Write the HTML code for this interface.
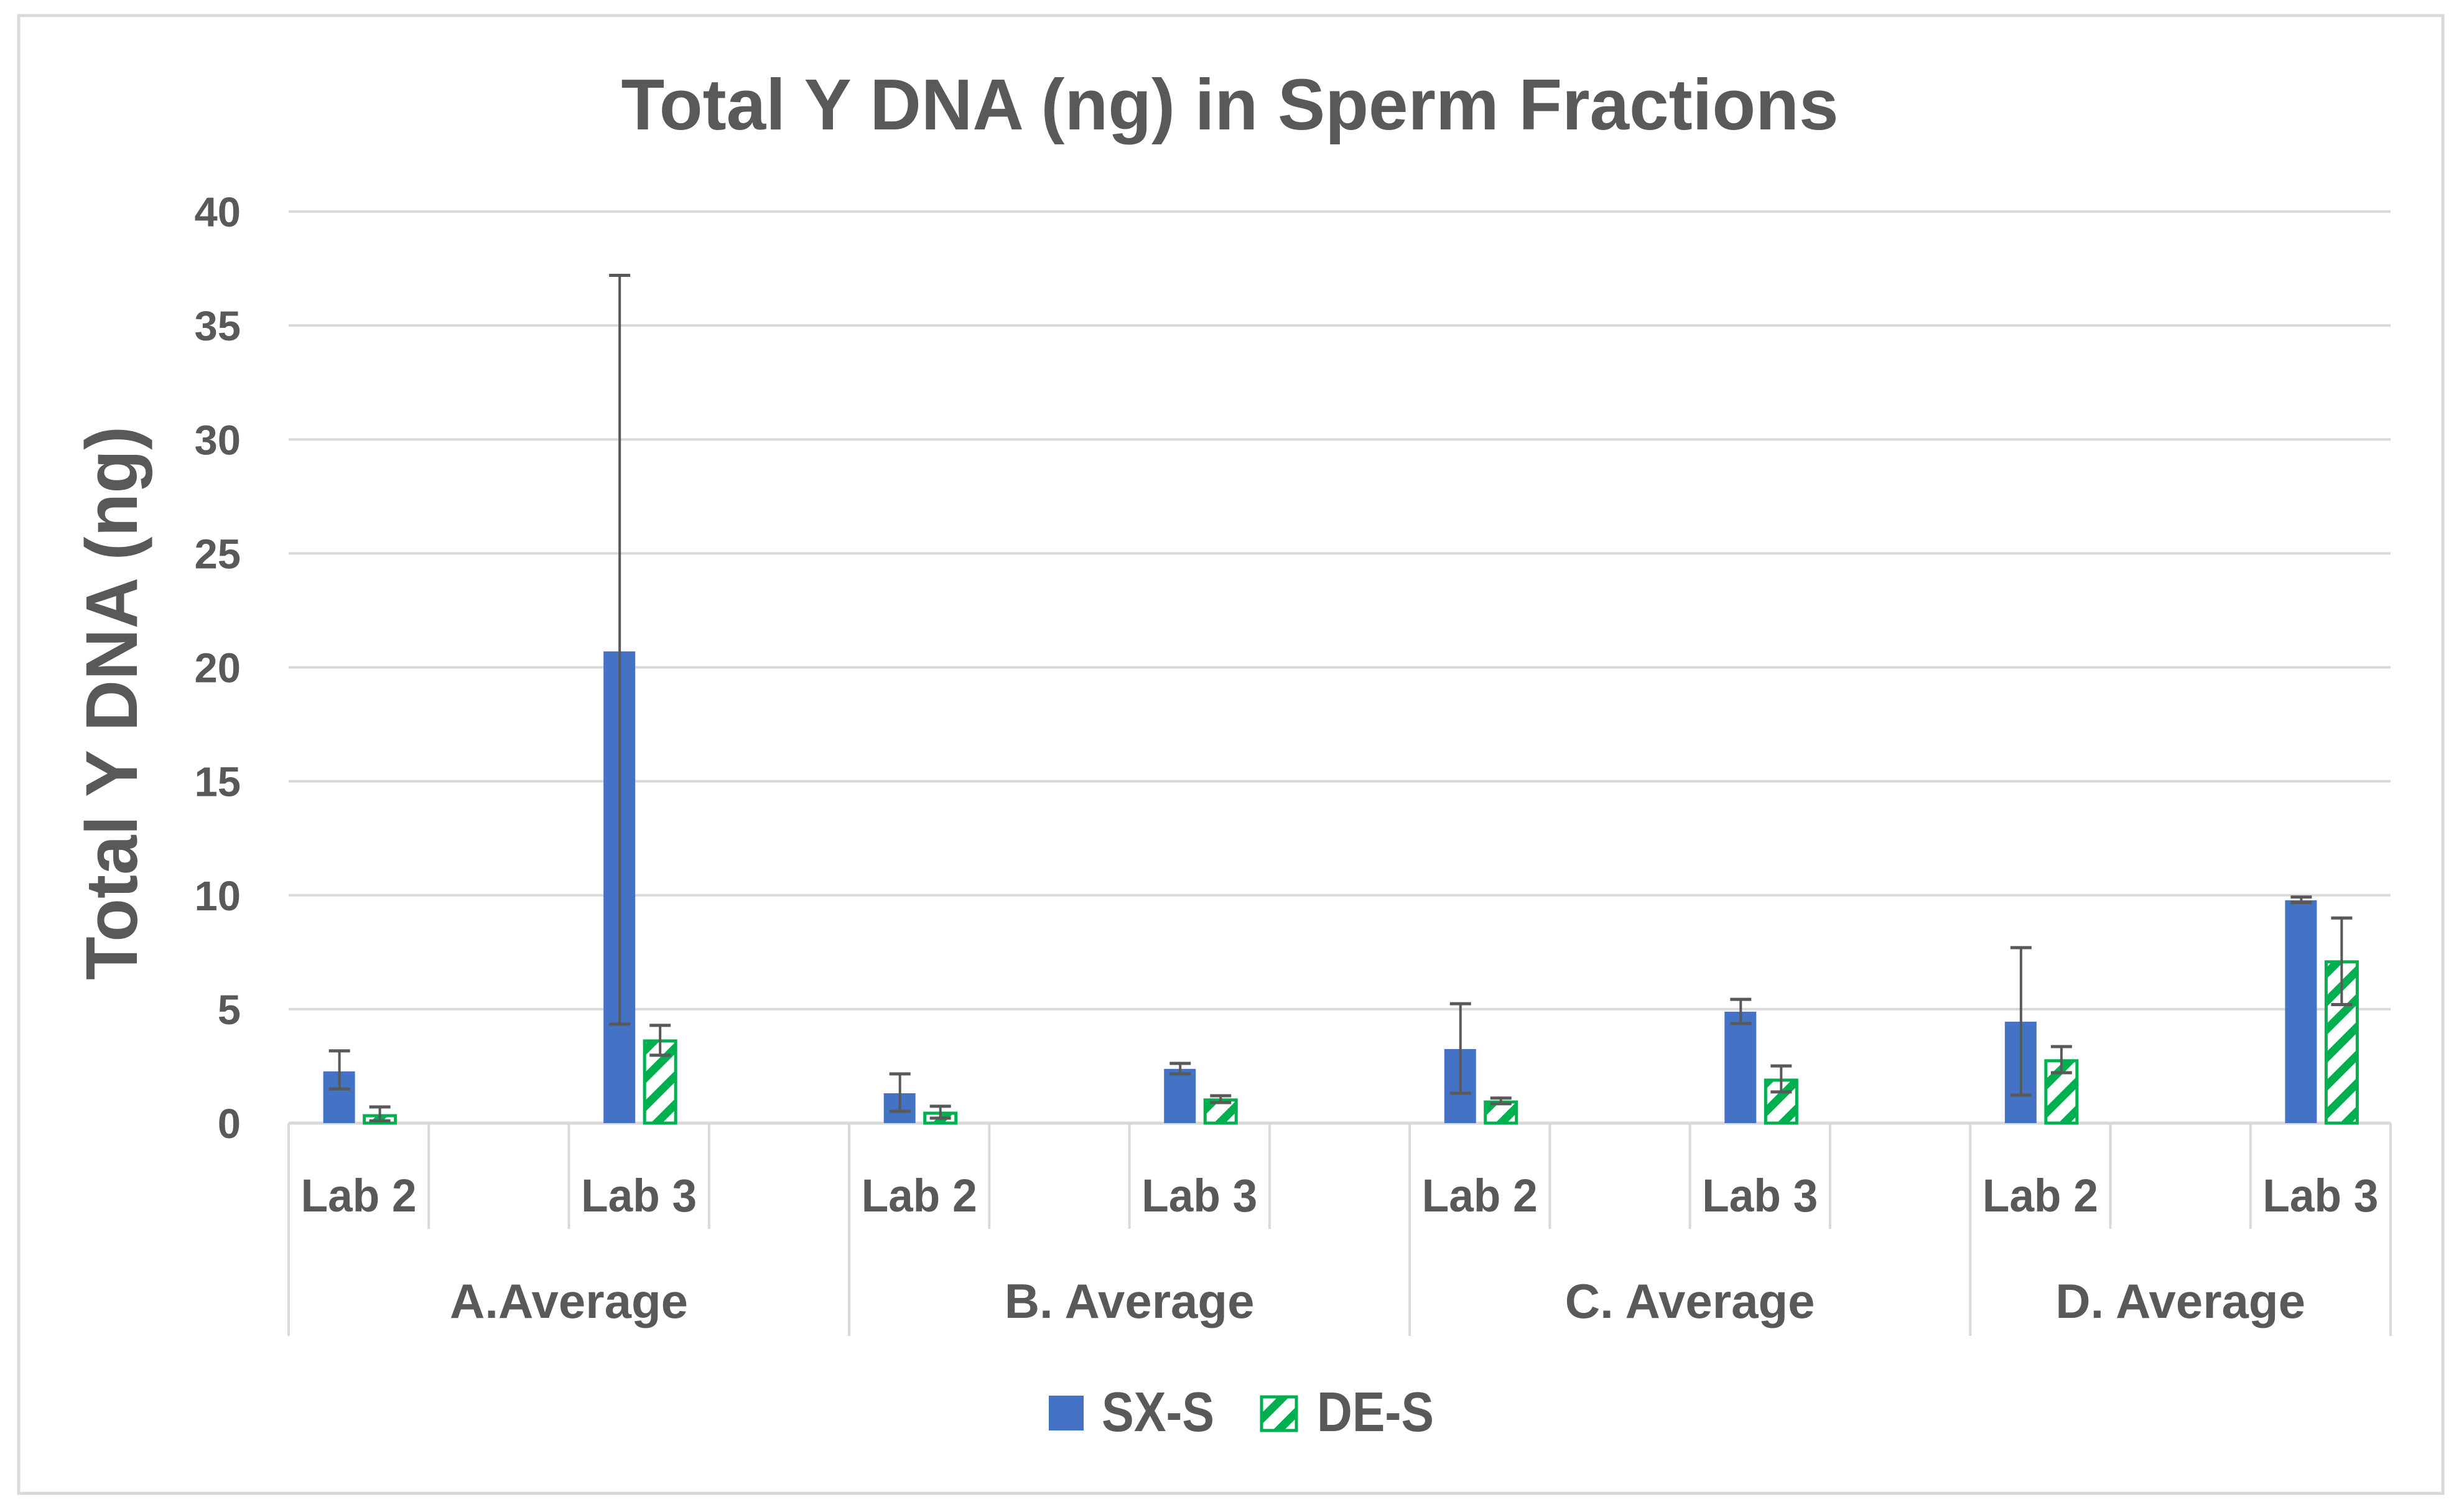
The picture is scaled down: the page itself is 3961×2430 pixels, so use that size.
<!DOCTYPE html>
<html><head><meta charset="utf-8"><style>
html,body{margin:0;padding:0;background:#fff;}
svg{display:block;}
text{font-family:"Liberation Sans",sans-serif;font-weight:bold;fill:#595959;}
</style></head><body>
<svg id="chart" width="3961" height="2430" viewBox="0 0 3961 2430" xmlns="http://www.w3.org/2000/svg">
<defs>
<pattern id="hatch" patternUnits="userSpaceOnUse" width="32" height="32" patternTransform="rotate(45)">
<rect width="32" height="32" fill="#fff"/>
<rect x="0" y="0" width="13" height="32" fill="#00b050"/>
</pattern>
</defs>
<rect x="30" y="25" width="3897" height="2375" fill="#fff" stroke="#d9d9d9" stroke-width="5"/>
<text x="1977" y="208" text-anchor="middle" font-size="116" textLength="1957" lengthAdjust="spacingAndGlyphs">Total Y DNA (ng) in Sperm Fractions</text>
<text transform="translate(220,1130) rotate(-90)" text-anchor="middle" font-size="118" textLength="890" lengthAdjust="spacingAndGlyphs">Total Y DNA (ng)</text>
<g id="grid"></g>
<g id="xaxis"></g>
<g id="bars"></g>
<g id="legend">
<rect x="1686" y="2243" width="56" height="56" fill="#4472c4"/>
<text x="1771" y="2300" font-size="90" textLength="181" lengthAdjust="spacingAndGlyphs">SX-S</text>
<rect x="2028" y="2245" width="56" height="54" fill="url(#hatch)" stroke="#00b050" stroke-width="5"/>
<text x="2117" y="2300" font-size="90" textLength="188" lengthAdjust="spacingAndGlyphs">DE-S</text>
</g>
</svg>
<script>
const groups = ["A.Average", "B. Average", "C. Average", "D. Average"];
const labs = ["Lab 2", "Lab 3"];
const yTicks = [0, 5, 10, 15, 20, 25, 30, 35, 40];
const sxValues = [2.27, 20.7, 1.31, 2.38, 3.25, 4.89, 4.45, 9.78];
const sxLow = [1.5, 4.34, 0.52, 2.16, 1.31, 4.37, 1.23, 9.68];
const sxHigh = [3.17, 37.2, 2.16, 2.62, 5.24, 5.43, 7.7, 9.92];
const deValues = [0.38, 3.66, 0.49, 1.07, 0.98, 1.94, 2.79, 7.13];
const deLow = [0.1, 2.98, 0.22, 0.9, 0.85, 1.37, 2.21, 5.2];
const deHigh = [0.71, 4.29, 0.74, 1.2, 1.1, 2.51, 3.36, 9.0];

const NS = "http://www.w3.org/2000/svg";
const X0 = 464, X1 = 3843, Y0 = 1805, Y40 = 340;
const nSlots = 15, slotW = (X1 - X0) / nSlots;
function y(v){ return Y0 - (v / 40) * (Y0 - Y40); }
function slotCenter(i){ return X0 + slotW * (i + 0.5); }
function catSlot(k){ return k * 2; } // Lab2, blank, Lab3, blank...
function mk(tag, attrs, parent){ const e = document.createElementNS(NS, tag); for (const k in attrs) e.setAttribute(k, attrs[k]); parent.appendChild(e); return e; }

const grid = document.getElementById('grid');
yTicks.forEach(t => {
  if (t > 0) {
    const l = mk('line', {x1: X0, x2: X1, y1: y(t), y2: y(t), stroke: '#d9d9d9', 'stroke-width': 4}, grid);
    
    
  }
  const tx = mk('text', {x: 387, y: y(t) + 24, 'text-anchor': 'end', 'font-size': 67}, grid);
  tx.textContent = t;
  
  
});

const xa = document.getElementById('xaxis');
const axl = mk('line', {x1: X0, x2: X1, y1: Y0, y2: Y0, stroke: '#d9d9d9', 'stroke-width': 5}, xa);


for (let i = 0; i <= nSlots; i++) {
  const gx = X0 + slotW * i;
  const isGroup = (i % 4 === 0) || i === nSlots;
  const tl = mk('line', {x1: gx, x2: gx, y1: Y0, y2: isGroup ? 2147 : 1975, stroke: '#d9d9d9', 'stroke-width': 4}, xa);
  
  
}
groups.forEach((g, gi) => {
  labs.forEach((lb, li) => {
    const s = gi * 4 + li * 2;
    const t = mk('text', {x: slotCenter(s), y: 1947, 'text-anchor': 'middle', 'font-size': 74, textLength: 186, lengthAdjust: 'spacingAndGlyphs'}, xa);
    t.textContent = lb;
    
    
  });
  const gEnd = Math.min(gi * 4 + 4, nSlots);
  const gc = (X0 + slotW * gi * 4 + X0 + slotW * gEnd) / 2;
  const gt = mk('text', {x: gc, y: 2118, 'text-anchor': 'middle', 'font-size': 78}, xa);
  gt.textContent = g;
  
  
});

const bars = document.getElementById('bars');
function errBar(cx, lo, hi){
  const ln = mk('line', {x1: cx, x2: cx, y1: y(hi), y2: y(lo), stroke: '#595959', 'stroke-width': 4}, bars);
  
  
  [lo, hi].forEach(v => {
    const c = mk('line', {x1: cx - 17, x2: cx + 17, y1: y(v), y2: y(v), stroke: '#595959', 'stroke-width': 5}, bars);
    
    
  });
}
for (let k = 0; k < 8; k++) {
  const gi = Math.floor(k / 2), li = k % 2;
  const c = slotCenter(gi * 4 + li * 2);
  const b = mk('rect', {x: c - 57, y: y(sxValues[k]), width: 51, height: Y0 - y(sxValues[k]), fill: '#4472c4'}, bars);
  
  
  const d = mk('rect', {x: c + 9, y: y(deValues[k]) + 2, width: 50, height: Math.max(0, Y0 - y(deValues[k]) - 2), fill: 'url(#hatch)', stroke: '#00b050', 'stroke-width': 5}, bars);
  
  
  errBar(c - 31, sxLow[k], sxHigh[k]);
  errBar(c + 34, deLow[k], deHigh[k]);
}
</script>
</body></html>
